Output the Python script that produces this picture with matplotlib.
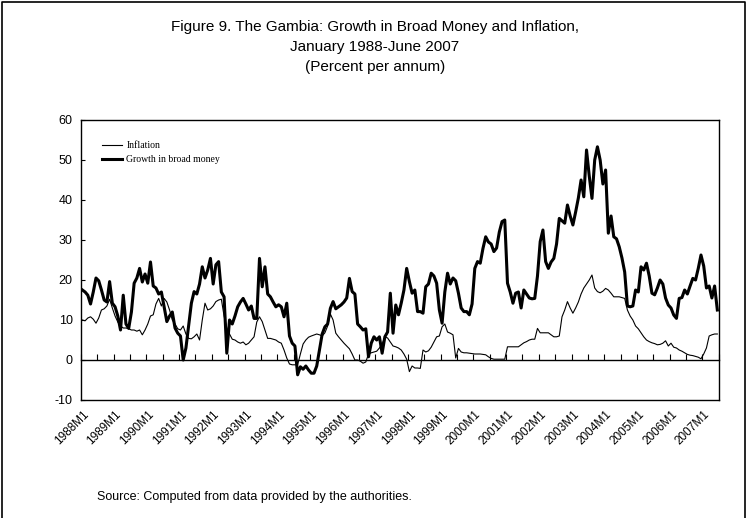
import matplotlib
matplotlib.use("Agg")
import matplotlib.pyplot as plt
from matplotlib.lines import Line2D

plt.rcParams["axes.unicode_minus"] = False

# ---- data (Jan 1988 - Jun 2007, monthly, percent per annum) ----
start_year = 1988
n_months = 234

growth = [
    17.5, 17, 16.2, 14, 17, 20.5, 19.8, 17.5, 15, 14.5, 19.6, 14.2,
    13.3, 11, 7.5, 16.2, 9, 7.9, 12, 19.2, 20.5, 22.9, 19.5, 21.5,
    19.2, 24.5, 18.5, 18, 16.5, 17, 13.3, 9.6, 11, 12, 8, 6.7,
    6, 0, 3, 8.5, 14.2, 17.1, 16.5, 19, 23.3, 20.5, 22.5, 25.4,
    19, 23.8, 24.6, 17, 15.8, 1.7, 10, 9, 11, 13.3, 14.5, 15.4,
    14, 12.5, 13.5, 10.4, 10.4, 25.4, 18.3, 23.3, 16.5, 15.8, 14.5, 13.3,
    13.8, 13.3, 10.8, 14.2, 6, 4.2, 3.5, -3.7, -1.7, -2.3, -1.5, -2.5,
    -3.3, -3.3, -1.5, 2.5, 6.5, 8.3, 9, 12.9, 14.6, 12.8, 13.3, 13.8,
    14.5, 15.5, 20.4, 17.1, 16.5, 9, 8.3, 7.5, 7.8, 0.8, 4.2, 5.8,
    5, 5.8, 1.7, 5.8, 7, 16.7, 6.7, 13.75, 11.3, 14.2, 17.5, 22.9,
    19.6, 16.7, 17.5, 12.1, 12.1, 11.7, 18.3, 19, 21.7, 21, 19.2, 12.5,
    9.2, 17, 21.7, 19, 20.5, 19.8, 16.7, 13, 12.1, 12.1, 11.3, 14,
    22.9, 24.6, 24.2, 27.9, 30.8, 29.5, 29, 27.1, 28, 32, 34.6, 35,
    19.2, 17, 14.2, 16.7, 17, 13, 17.5, 16.5, 15.5, 15.3, 15.4, 21,
    29.6, 32.5, 24.6, 22.9, 24.5, 25.4, 29, 35.4, 34.8, 34.2, 38.75, 36,
    33.75, 37, 40.5, 45, 40.8, 52.5, 46, 40.4, 50, 53.3, 50, 44,
    47.5, 31.7, 36, 30.8, 30.3, 28.3, 25.5, 22, 13.5, 13.3, 13.5, 17.5,
    17, 23.3, 22.5, 24.2, 21, 16.7, 16.3, 18, 20, 19, 15.5, 13.75,
    13, 11.25, 10.4, 15.4, 15.6, 17.5, 16.5, 18.5, 20.4, 20, 22.9, 26.25,
    23.5, 18, 18.5, 15.5, 18.5, 12.5,
]

inflation = [
    10, 9.8, 10.5, 10.8, 10.2, 9.2, 10.5, 12.5, 12.8, 13.5, 15.2, 13,
    11, 9.5, 8.5, 8, 8, 7.8, 7.5, 7.5, 7.2, 7.5, 6.3, 7.5,
    9, 11, 11.3, 14, 15.4, 13.5, 15.4, 14.5, 12.5, 10, 9, 7.8,
    7.5, 8.5, 6.5, 5.4, 5.3, 5.8, 6.5, 5, 10, 14.2, 12.5, 12.8,
    13.5, 14.6, 15, 15.2, 11, 8, 6.5, 5.2, 5, 4.5, 4.2, 4.5,
    3.8, 4.2, 5, 5.8, 9.5, 10.8, 9.6, 7.5, 5.4, 5.4, 5.2, 5,
    4.5, 4.2, 2.5, 0.5, -1, -1.2, -1.2, -1.2, 1.5, 4, 5, 5.7,
    6, 6.25, 6.5, 6.3, 6, 6.8, 8.5, 11.5, 10, 6.7, 5.8, 5,
    4.2, 3.5, 2.8, 1.5, 0, 0, -0.3, -0.8, -0.5, 1.5, 1.8, 2,
    2.2, 3, 4, 5.8, 5.5, 4.5, 3.5, 3.3, 3, 2.5, 1.5, 0.2,
    -2.9, -1.5, -2, -2, -2.1, 2.5, 2, 2.3, 3.2, 4.5, 5.8, 6,
    8.3, 9, 7, 6.7, 6.3, 0.5, 2.9, 2, 1.8, 1.8, 1.7, 1.6,
    1.5, 1.5, 1.5, 1.4, 1.3, 0.8, 0.4, 0.2, 0.2, 0.2, 0.2, 0.2,
    3.3, 3.3, 3.3, 3.3, 3.3, 3.8, 4.3, 4.6, 5, 5.2, 5.2, 7.9,
    6.8, 6.8, 6.8, 6.8, 6.3, 5.8, 5.8, 6, 10.8, 12.5, 14.6, 13,
    11.7, 13, 14.5, 16.5, 18, 19, 20, 21.25, 18, 17.1, 16.8, 17.2,
    17.9, 17.5, 16.7, 15.8, 15.8, 15.8, 15.6, 15.4, 12.5, 11, 10, 8.5,
    7.8, 6.8, 5.8, 5, 4.6, 4.3, 4.1, 3.8, 3.9, 4.2, 4.8, 3.5,
    4.2, 3.2, 3, 2.5, 2.2, 1.8, 1.4, 1.2, 1.1, 0.9, 0.7, 0.3,
    1.5, 3, 6, 6.3, 6.5, 6.5,
]

y_ticks = [-10, 0, 10, 20, 30, 40, 50, 60]
x_labels = [f"{y}M1" for y in range(1988, 2008)]

# ---- figure ----
fig = plt.figure(figsize=(7.52, 5.18), dpi=100)
ax = fig.add_axes([81 / 752, 118 / 518, 637.7 / 752, 280 / 518])

months = list(range(len(growth)))
ax.plot(months, inflation, color="black", lw=0.8, label="Inflation")
ax.plot(months, growth, color="black", lw=2.2, label="Growth in broad money")

ax.set_xlim(-0.5, n_months - 0.5)
ax.set_ylim(-10, 60)
ax.set_yticks(y_ticks)
ax.tick_params(axis="y", direction="in", length=3, labelsize=9, pad=6)
for lab in ax.get_yticklabels():
    lab.set_family(["Liberation Sans", "DejaVu Sans"])

# x labels at the bottom of the plot area, every 12 months
ax.set_xticks(list(range(0, n_months, 12)))
ax.set_xticklabels(x_labels, rotation=45, ha="right", va="top",
                   rotation_mode="anchor", fontsize=8.5,
                   family=["Liberation Sans", "DejaVu Sans"])
ax.tick_params(axis="x", length=0, pad=6)

for sp in ax.spines.values():
    sp.set_linewidth(1.0)
    sp.set_color("black")

# category axis crossing at zero, with tick marks every 6 months
zero_frac = (0 - (-10)) / 70
sec = ax.secondary_xaxis(zero_frac)
sec.set_xticks([-0.5 + 6 * k for k in range(n_months // 6 + 1)])
sec.tick_params(axis="x", direction="in", length=4, width=0.8, labelbottom=False)
sec.spines["bottom"].set_linewidth(1.0)
sec.spines["bottom"].set_color("black")

leg = ax.legend(loc="upper left", bbox_to_anchor=(0.033, 0.925), frameon=False,
                borderpad=0, borderaxespad=0, handlelength=2.1,
                handletextpad=0.4, labelspacing=0.55,
                prop={"family": ["Liberation Serif", "DejaVu Serif"], "size": 7})

# title
title_lines = ["Figure 9. The Gambia: Growth in Broad Money and Inflation,",
               "January 1988-June 2007",
               "(Percent per annum)"]
for k, line in enumerate(title_lines):
    fig.text(0.4987, 1 - (27 + 20 * k) / 518, line, ha="center", va="center",
             fontsize=11, family=["Liberation Sans", "DejaVu Sans"])

fig.text(97 / 752, 1 - 497 / 518, "Source: Computed from data provided by the authorities.",
         ha="left", va="center", fontsize=9, family=["Liberation Sans", "DejaVu Sans"])

# outer frame (left, top, right)
fig.add_artist(Line2D([2 / 752, 2 / 752, 745 / 752, 745 / 752],
                      [0, 1 - 2 / 518, 1 - 2 / 518, 0],
                      transform=fig.transFigure, color="black", lw=1.2))

fig.savefig("out.png", dpi=100)
